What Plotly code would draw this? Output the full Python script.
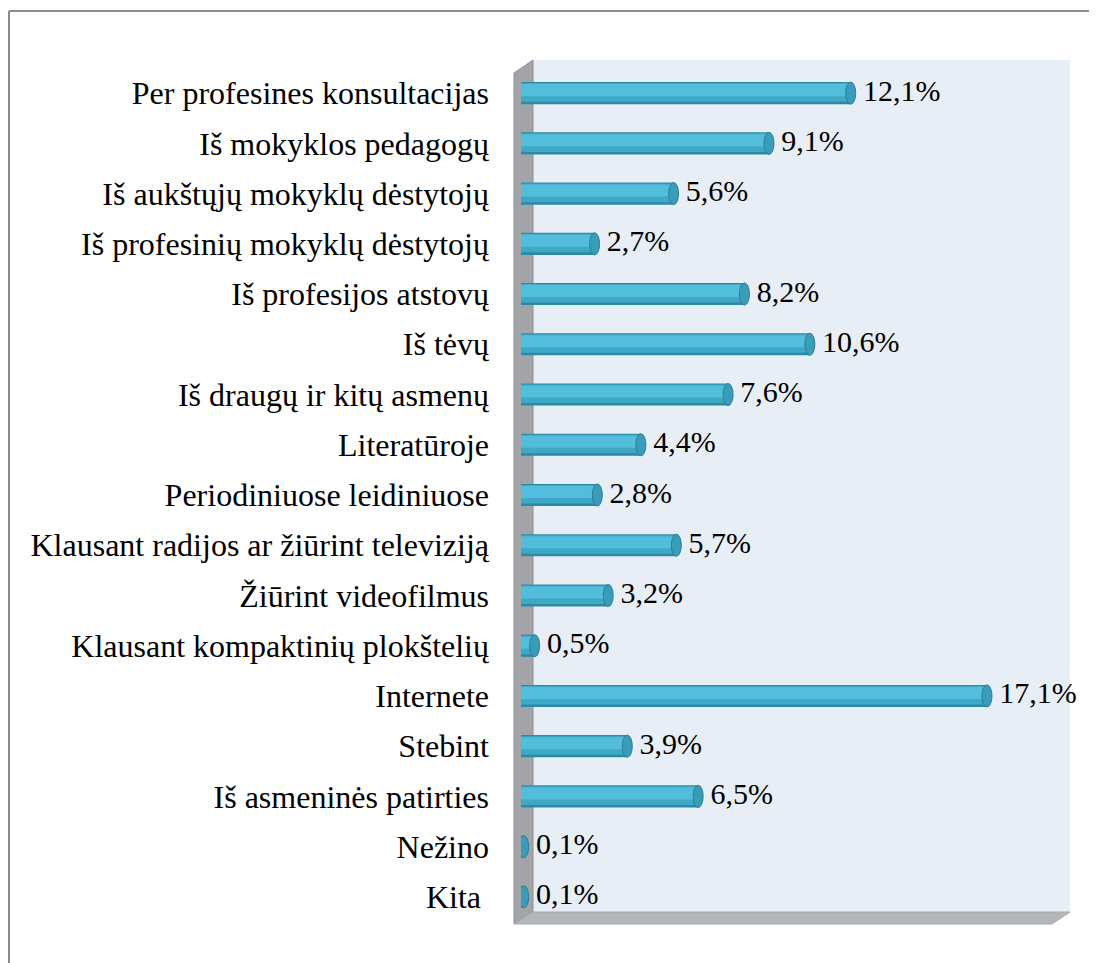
import plotly.graph_objects as go

categories = [
    "Per profesines konsultacijas",
    "Iš mokyklos pedagogų",
    "Iš aukštųjų mokyklų dėstytojų",
    "Iš profesinių mokyklų dėstytojų",
    "Iš profesijos atstovų",
    "Iš tėvų",
    "Iš draugų ir kitų asmenų",
    "Literatūroje",
    "Periodiniuose leidiniuose",
    "Klausant radijos ar žiūrint televiziją",
    "Žiūrint videofilmus",
    "Klausant kompaktinių plokštelių",
    "Internete",
    "Stebint",
    "Iš asmeninės patirties",
    "Nežino",
    "Kita\u00a0",
]
values = [12.1, 9.1, 5.6, 2.7, 8.2, 10.6, 7.6, 4.4, 2.8, 5.7, 3.2, 0.5, 17.1, 3.9, 6.5, 0.1, 0.1]
labels = [f"{v:.1f}".replace(".", ",") + "%" for v in values]

OFF = 8  # page body margin
W, H = 1097 - OFF, 963 - OFF
# plot area in reference page pixels
PL, PR, PT, PB = 521, 1070, 68, 922
XMAX = (PR - PL) / 27.25
SERIF = "Liberation Serif"


def px(x):
    return (x - PL) / (PR - PL)


def py(y):
    return (PB - y) / (PB - PT)


fig = go.Figure()

# cylinder body layers
fig.add_trace(go.Bar(y=categories, x=values, orientation="h", width=0.44, offset=-0.22,
                     marker=dict(color="#2E89A2", line=dict(width=0)), hoverinfo="skip", showlegend=False))
fig.add_trace(go.Bar(y=categories, x=values, orientation="h", width=0.37, offset=-0.20,
                     marker=dict(color="#3FA8C6", line=dict(width=0)), hoverinfo="skip", showlegend=False))
fig.add_trace(go.Bar(y=categories, x=values, orientation="h", width=0.24, offset=-0.18,
                     marker=dict(color="#52BEDC", line=dict(width=0)), hoverinfo="skip", showlegend=False))
# value labels
fig.add_trace(go.Scatter(y=categories, x=values, mode="markers+text", text=labels,
                         textposition="middle right",
                         marker=dict(size=18, color="rgba(0,0,0,0)"),
                         textfont=dict(family=SERIF, size=30, color="#000000"),
                         hoverinfo="skip", showlegend=False, cliponaxis=False))

shapes = []
# outer chart border
shapes.append(dict(type="line", xref="paper", yref="paper", x0=px(9), x1=px(1110), y0=py(11), y1=py(11),
                   line=dict(color="#8C8C8C", width=2), layer="below"))
shapes.append(dict(type="line", xref="paper", yref="paper", x0=px(9), x1=px(9), y0=py(11), y1=py(980),
                   line=dict(color="#8C8C8C", width=2), layer="below"))
# back wall
shapes.append(dict(type="rect", xref="paper", yref="paper", x0=px(533), x1=px(1070), y0=py(912), y1=py(60),
                   fillcolor="#E8EEF5", line=dict(width=0), layer="below"))
# left side wall
shapes.append(dict(type="path", xref="paper", yref="paper",
                   path=f"M {px(514)} {py(73)} L {px(533)} {py(60)} L {px(533)} {py(912)} L {px(514)} {py(924)} Z",
                   fillcolor="#A2A4A8", line=dict(color="#8E9094", width=1), layer="below"))
# floor
shapes.append(dict(type="path", xref="paper", yref="paper",
                   path=f"M {px(514)} {py(924)} L {px(533)} {py(912)} L {px(1070)} {py(912)} L {px(1052)} {py(924)} Z",
                   fillcolor="#B3B7BB", line=dict(color="#A6AAAE", width=1), layer="below"))

# cylinder end caps, positioned from the data
cap_half = 5 / 27.25
for i, v in enumerate(values):
    shapes.append(dict(type="circle", xref="x", yref="y", x0=v - cap_half, x1=v + cap_half,
                       y0=i - 0.22, y1=i + 0.22, fillcolor="#3A9CB8",
                       line=dict(color="#2A7F98", width=1), layer="above"))

fig.update_layout(
    width=W, height=H, autosize=False,
    margin=dict(l=PL - OFF, r=W - (PR - OFF), t=PT - OFF, b=H - (PB - OFF), pad=0),
    paper_bgcolor="white", plot_bgcolor="rgba(0,0,0,0)",
    barmode="overlay",
    shapes=shapes,
    xaxis=dict(range=[0, XMAX], visible=False, showgrid=False, zeroline=False, fixedrange=True),
    yaxis=dict(range=[len(categories) - 0.5, -0.5], showgrid=False, zeroline=False, showline=False, ticks="",
               ticklabelstandoff=31,
               tickfont=dict(family=SERIF, size=32, color="#000000"), fixedrange=True),
    font=dict(family=SERIF),
)

fig.write_html("out.html")
